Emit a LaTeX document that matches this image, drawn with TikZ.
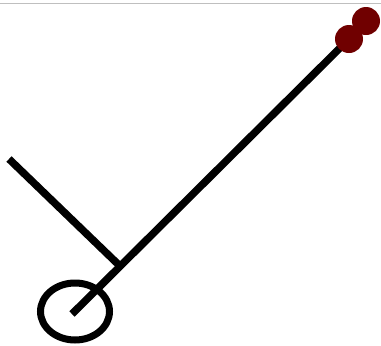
\documentclass[tikz,border=0pt]{standalone}
\usetikzlibrary{shapes.geometric}
\definecolor{dotred}{RGB}{112,0,0}
\tikzset{
  stick/.style={line width=7.5pt, line cap=butt, draw=black},
  knob/.style={circle, fill=dotred, draw=none, minimum size=28pt, inner sep=0pt},
  ring/.style={ellipse, draw=black, line width=7pt, minimum width=69pt, minimum height=57pt, inner sep=0pt},
  topline/.style={draw=black!25, line width=1pt}
}
\begin{document}
\begin{tikzpicture}[x=1pt,y=-1pt]
\useasboundingbox (0,0) rectangle (381,346);
\coordinate (tl) at (0,3);
\coordinate (tr) at (381,3);
\draw[topline] (tl) -- (tr);
\node[ring] (ring) at (75,311.5) {};
\coordinate (base) at (72,314);
\coordinate (armstart) at (9,159);
\coordinate (armend) at (122,268);
\coordinate (tip) at (349,39);
\draw[stick] (armstart) -- (armend);
\draw[stick] (base) -- (tip);
\node[knob] (k2) at (366,21) {};
\node[knob] (k1) at (tip) {};
\end{tikzpicture}
\end{document}
